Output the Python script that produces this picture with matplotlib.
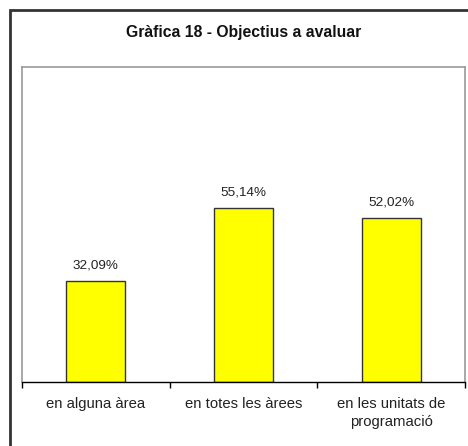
import numpy as np
import matplotlib.pyplot as plt
from matplotlib.patches import Rectangle

# dades del gràfic
categories = ['en alguna àrea', 'en totes les àrees', 'en les unitats de\nprogramació']
valors = [32.09, 55.14, 52.02]
etiquetes = ['32,09%', '55,14%', '52,02%']
titol = 'Gràfica 18 - Objectius a avaluar'

plt.rcParams['font.family'] = ['Liberation Sans', 'DejaVu Sans']

fig = plt.figure(figsize=(4.68, 4.46), dpi=100)
ax = fig.add_axes([22 / 468, 64 / 446, 443 / 468, 315 / 446])

# marc exterior
fig.patches.append(Rectangle((10 / 468, -0.05), 1.0, (436 / 446) + 0.05,
                             transform=fig.transFigure, fill=False,
                             edgecolor='#333333', linewidth=2))

x = np.arange(len(categories))
ax.bar(x, valors, width=0.4, color='#FFFF00', edgecolor='#333333', linewidth=1)

for xi, v, t in zip(x, valors, etiquetes):
    ax.annotate(t, (xi, v), xytext=(0, 7), textcoords='offset points',
                ha='center', va='bottom', fontsize=9.7, color='#222222')

ax.set_xlim(-0.5, len(categories) - 0.5)
ax.set_ylim(0, 100)
ax.set_yticks([])

ax.set_xticks(x)
ax.set_xticklabels(categories, fontsize=10.7, color='#222222', linespacing=1.3)
ax.tick_params(axis='x', which='major', length=0, pad=11)
ax.set_xticks(np.arange(len(categories) + 1) - 0.5, minor=True)
ax.tick_params(axis='x', which='minor', length=4, width=1, color='black')

for s in ['left', 'top', 'right']:
    ax.spines[s].set_color('#999999')
    ax.spines[s].set_linewidth(1.2)
ax.spines['bottom'].set_color('black')
ax.spines['bottom'].set_linewidth(1)

fig.text(244 / 468, 1 - 32 / 446, titol, ha='center', va='center',
         fontsize=11.3, fontweight='bold', color='#111111')

fig.savefig('out.png', dpi=100)
